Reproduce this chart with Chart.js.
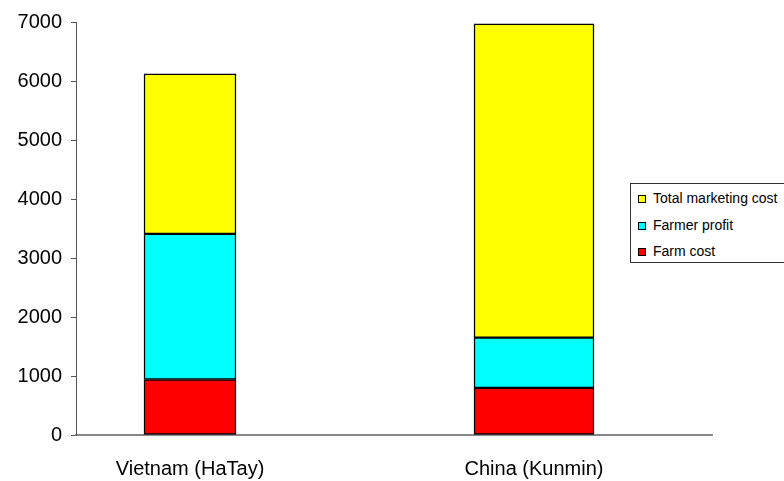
<!DOCTYPE html>
<html lang="en">
<head>
  <meta charset="UTF-8">
  <title>Farm cost, farmer profit and marketing cost</title>
  <script src="https://cdn.jsdelivr.net/npm/chart.js"></script>
  <style>
    body { margin: 0; background: #fff; overflow: hidden; }
    #wrap { position: relative; width: 784px; height: 481px; }
    /* legend box, partly cut by the right edge like the original */
    #legend {
      position: absolute; left: 630px; top: 183px; width: 170px; height: 78px;
      border: 1px solid #333; background: #fff;
      font-family: 'Liberation Sans', Arial, sans-serif; font-size: 14px; color: #000;
    }
    .item { position: absolute; left: 7px; height: 16px; line-height: 16px; white-space: nowrap; }
    .item i { display: inline-block; width: 6px; height: 6px; border: 1.5px solid #000; margin-right: 7px; vertical-align: 0px; }
  </style>
</head>
<body>
  <div id="wrap">
    <canvas id="chart"></canvas>
    <div id="legend"></div>
  </div>

  <script>
    // data
    const categories = ['Vietnam (HaTay)', 'China (Kunmin)'];
    const seriesNames = ['Farm cost', 'Farmer profit', 'Total marketing cost'];
    const farmCost = [940, 800];
    const farmerProfit = [2470, 850];
    const marketingCost = [2710, 5320];
    const yTicks = [0, 1000, 2000, 3000, 4000, 5000, 6000, 7000];

    const seriesValues = [farmCost, farmerProfit, marketingCost];
    const colors = ['#ff0000', '#00ffff', '#ffff00'];
    const barWidths = [92, 120]; // the two bars are not the same width in the original

    // one dataset per series and category so each bar can keep its own width
    const datasets = [];
    seriesValues.forEach((vals, s) => {
      vals.forEach((v, c) => {
        datasets.push({
          label: seriesNames[s],
          data: [{ x: c, y: v }],
          backgroundColor: colors[s],
          borderColor: '#000',
          borderWidth: 1.5,
          borderSkipped: false,
          barThickness: barWidths[c],
          stack: 'all'
        });
      });
    });

    const font = { family: "'Liberation Sans', Arial, sans-serif", size: 20 };

    new Chart(document.getElementById('chart'), {
      type: 'bar',
      data: { datasets: datasets },
      options: {
        responsive: true,
        maintainAspectRatio: false,
        animation: false,
        layout: { padding: { top: 22, right: 72, left: 0, bottom: 0 } },
        plugins: { legend: { display: false }, tooltip: { enabled: false } },
        scales: {
          x: {
            type: 'linear',
            stacked: true,
            offset: false,
            min: -0.3314,
            max: 1.5174,
            grid: { display: false, offset: false },
            border: { display: true, color: '#888', width: 2 },
            afterBuildTicks: (scale) => { scale.ticks = categories.map((_, i) => ({ value: i })); },
            afterFit: (scale) => { scale.height = 46; },
            ticks: {
              color: '#000',
              font: font,
              padding: 14,
              maxRotation: 0,
              autoSkip: false,
              callback: (v) => categories[v]
            }
          },
          y: {
            stacked: true,
            min: 0,
            max: 7000,
            afterBuildTicks: (scale) => { scale.ticks = yTicks.map(v => ({ value: v })); },
            afterFit: (scale) => { scale.width = 76; },
            grid: { drawOnChartArea: false, tickLength: 5, color: '#555' },
            border: { display: true, color: '#555', width: 1 },
            ticks: { color: '#000', font: font, padding: 9, callback: (v) => String(v) }
          }
        }
      }
    });

    // legend, top to bottom in the same order as the stack
    const legend = document.getElementById('legend');
    const legendTops = [6, 33, 59];
    [2, 1, 0].forEach((s, k) => {
      const d = document.createElement('div');
      d.className = 'item';
      d.style.top = legendTops[k] + 'px';
      d.innerHTML = '<i style="background:' + colors[s] + '"></i>' + seriesNames[s];
      legend.appendChild(d);
    });
  </script>
</body>
</html>
